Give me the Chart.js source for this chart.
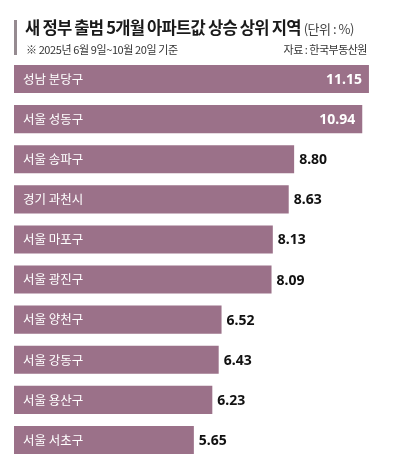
<!DOCTYPE html>
<html>
<head>
<meta charset="utf-8">
<script src="https://cdn.jsdelivr.net/npm/chart.js@4/dist/chart.umd.min.js"></script>
<style>
  body { margin: 0; background: #fff; font-family: "Noto Sans CJK KR", "Noto Sans", sans-serif; }
  #wrap { position: relative; width: 403px; height: 461px; }
  #side { position: absolute; left: 14px; top: 20px; width: 3px; height: 35px; background: #958a90; }
  #title { position: absolute; left: 25px; top: 15px; font-size: 16.6px; font-weight: 700; letter-spacing: -0.8px; color: #1a1a1a; white-space: nowrap; }
  #title span { font-size: 13px; font-weight: 400; color: #444; letter-spacing: -0.5px; margin-left: 3px; }
  #sub { position: absolute; left: 26px; top: 41px; font-size: 11px; letter-spacing: -0.4px; color: #333; white-space: nowrap; }
  #source { position: absolute; right: 36px; top: 41px; font-size: 11px; letter-spacing: -0.5px; color: #333; white-space: nowrap; }
  #chart { position: absolute; left: 0; top: 0; width: 403px; height: 461px; }
</style>
</head>
<body>
<div id="wrap">
  <div id="chart"><canvas id="bars"></canvas></div>
  <div id="side"></div>
  <div id="title">새 정부 출범 5개월 아파트값 상승 상위 지역<span>(단위 : %)</span></div>
  <div id="sub">※ 2025년 6월 9일~10월 20일 기준</div>
  <div id="source">자료 : 한국부동산원</div>
</div>
<script>
const regions = ["성남 분당구", "서울 성동구", "서울 송파구", "경기 과천시", "서울 마포구",
    "서울 광진구", "서울 양천구", "서울 강동구", "서울 용산구", "서울 서초구"];
const rises = [11.15, 10.94, 8.80, 8.63, 8.13, 8.09, 6.52, 6.43, 6.23, 5.65];

const barColor = "#9b7189";

// category name inside the bar, value at the bar end
const barLabels = {
    id: "barLabels",
    afterDatasetsDraw(chart) {
        const ctx = chart.ctx;
        const meta = chart.getDatasetMeta(0);
        ctx.save();
        ctx.textBaseline = "middle";
        meta.data.forEach((bar, i) => {
            ctx.font = '400 12.5px "Noto Sans CJK KR"';
            ctx.fillStyle = "#fff";
            ctx.textAlign = "left";
            ctx.fillText(regions[i], bar.base + 9, bar.y);

            ctx.font = '700 14px "Noto Sans", sans-serif';
            const text = rises[i].toFixed(2);
            if (rises[i] > 10) {
                ctx.textAlign = "right";
                ctx.fillStyle = "#fff";
                ctx.fillText(text, bar.x - 7, bar.y + 1);
            } else {
                ctx.textAlign = "left";
                ctx.fillStyle = "#111";
                ctx.fillText(text, bar.x + 5, bar.y + 1);
            }
        });
        ctx.restore();
    }
};

new Chart(document.getElementById("bars"), {
    type: "bar",
    data: {
        labels: regions,
        datasets: [{
            data: rises,
            backgroundColor: barColor,
            borderWidth: 0,
            categoryPercentage: 1,
            barPercentage: 0.7
        }]
    },
    options: {
        indexAxis: "y",
        responsive: true,
        maintainAspectRatio: false,
        animation: false,
        layout: { padding: { top: 59, left: 14, right: 7, bottom: 1 } },
        scales: {
            x: { display: false, min: 0, max: 12 },
            y: { display: false }
        },
        plugins: {
            legend: { display: false },
            tooltip: { enabled: false }
        }
    },
    plugins: [barLabels]
});
</script>
</body>
</html>
